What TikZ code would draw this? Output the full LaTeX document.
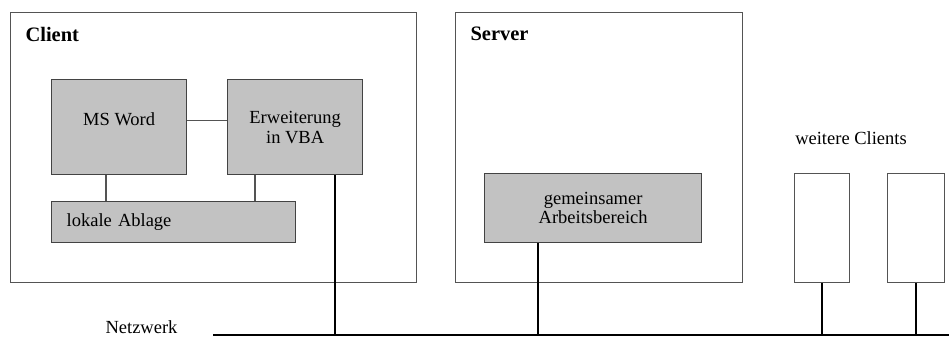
\documentclass[tikz,border=0pt]{standalone}
\usepackage{fontspec}
\setmainfont{Liberation Serif}
\usetikzlibrary{positioning, calc}
\definecolor{boxgray}{rgb}{0.76, 0.76, 0.76}
\definecolor{framegray}{rgb}{0.33, 0.33, 0.33}

\begin{document}
\begin{tikzpicture}[x=1pt, y=-1pt,
  every node/.style={font=\fontsize{18.5}{22}\selectfont},
  frame/.style={draw=framegray, line width=1.3pt, fill=white, inner sep=0pt, anchor=north west},
  part/.style={draw=framegray!80!black, line width=1.3pt, fill=boxgray, inner sep=0pt, anchor=north west, align=center},
  title/.style={font=\fontsize{20.5}{24}\selectfont\bfseries, anchor=west},
  link/.style={draw=framegray, line width=1.2pt},
  netline/.style={draw=black, line width=2.6pt}]
\useasboundingbox (0,0) rectangle (949,337);

% Rahmen
\node[frame, minimum width=406, minimum height=270] (client) at (10,12) {};
\node[frame, minimum width=287, minimum height=270] (server) at (455,12) {};
\node[title] (clientlabel) at (22,34) {Client};
\node[title] (serverlabel) at (467,34) {Server};

% Client
\node[part, minimum width=135, minimum height=95, text depth=16pt] (word) at (51,79) {MS Word};
\node[part, minimum width=135, minimum height=95] (vba) at (227,79) {Erweiterung\\[-2pt]in VBA};
\node[part, minimum width=244, minimum height=41, text width=214, inner xsep=15, align=left] (ablage) at (51,201) {lokale Ablage};
\draw[link] ($(word.east)+(0,-7)$) -- ($(vba.west)+(0,-7)$);
\draw[link] ($(word.south west)+(55,0)$) -- ($(ablage.north west)+(55,0)$);
\draw[link] ($(vba.south west)+(28,0)$) -- ($(ablage.north west)+(204,0)$);

% Server
\node[part, minimum width=217, minimum height=69] (arbeit) at (484,173) {gemeinsamer\\[-3pt]Arbeitsbereich};

% weitere Clients
\node (weiterelabel) at (851,138) {weitere Clients};
\node[frame, minimum width=55, minimum height=109] (clientA) at (794,173) {};
\node[frame, minimum width=57, minimum height=109] (clientB) at (887,173) {};

% Netzwerk
\coordinate (netL) at (213,335);
\coordinate (netR) at (949,335);
\coordinate (vbaport) at ($(vba.south west)+(108,0)$);
\coordinate (arbeitport) at ($(arbeit.south west)+(54,0)$);
\node[anchor=east] (netlabel) at (181,327) {Netzwerk};
\draw[netline] (netL) -- (netR);
\draw[netline] (vbaport) -- (vbaport |- netL);
\draw[netline] (arbeitport) -- (arbeitport |- netL);
\draw[netline] (clientA.south) -- (clientA.south |- netL);
\draw[netline] (clientB.south) -- (clientB.south |- netL);
\end{tikzpicture}
\end{document}
